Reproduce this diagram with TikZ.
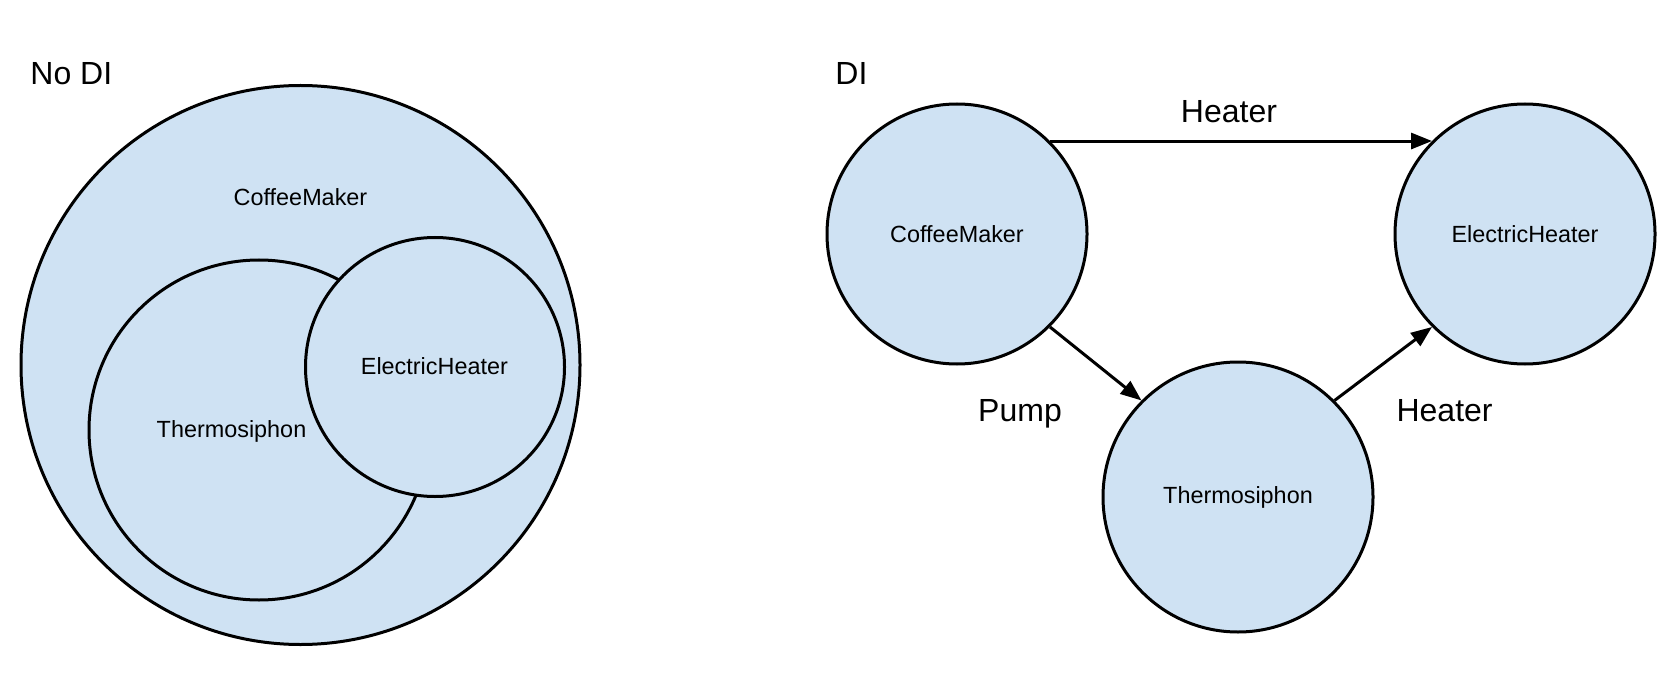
\documentclass[tikz,border=0pt]{standalone}
\usepackage{fontspec}
\setmainfont{Liberation Sans}
\usetikzlibrary{arrows.meta}
\definecolor{bubblefill}{HTML}{CFE2F3}
\tikzset{
  bubble/.style={circle, draw, fill=bubblefill, line width=1.5pt, inner sep=0pt},
  small/.style={font=\fontsize{11.7}{14}\selectfont},
  big/.style={font=\fontsize{16}{19}\selectfont, inner sep=0pt},
  dep/.style={line width=1.5pt, -{Triangle[length=10.5pt,width=8pt]}}
}
\begin{document}
\begin{tikzpicture}[x=0.5pt, y=-0.5pt]
      \useasboundingbox (0, 0) rectangle (1669, 684);

      % no DI
      \node[big, anchor=base west] (noDI) at (30, 85) {No DI};
      \node[bubble, minimum size=279.5pt] (cmOuter) at (300.5, 365) {};
      \node[bubble, minimum size=170pt] (tsInner) at (259, 430) {};
      \node[bubble, minimum size=129.5pt] (ehInner) at (435, 367) {};
      \node[small, anchor=base] (cmLabel) at (300.5, 205.4) {CoffeeMaker};
      \node[small, anchor=base] (tsLabel) at (231.5, 437) {Thermosiphon};
      \node[small, anchor=base] (ehLabel) at (434.4, 374.6) {ElectricHeater};

      % DI
      \node[big, anchor=base west] (DI) at (835, 85) {DI};
      \node[bubble, small, minimum size=130pt] (cm) at (957, 234) {CoffeeMaker};
      \node[bubble, small, minimum size=130pt] (eh) at (1525, 234) {ElectricHeater};
      \node[bubble, small, minimum size=135pt] (ts) at (1238, 497) {Thermosiphon};

      \draw[dep] (cm.north east) -- (eh.north west);
      \draw[dep] (cm.south east) -- (ts.north west);
      \draw[dep] (ts.north east) -- (eh.south west);

      \node[big, anchor=base] (heaterTop) at (1229, 123) {Heater};
      \node[big, anchor=base] (pump) at (1020, 421.5) {Pump};
      \node[big, anchor=base] (heaterRight) at (1444.6, 421.5) {Heater};
  \end{tikzpicture}
\end{document}
